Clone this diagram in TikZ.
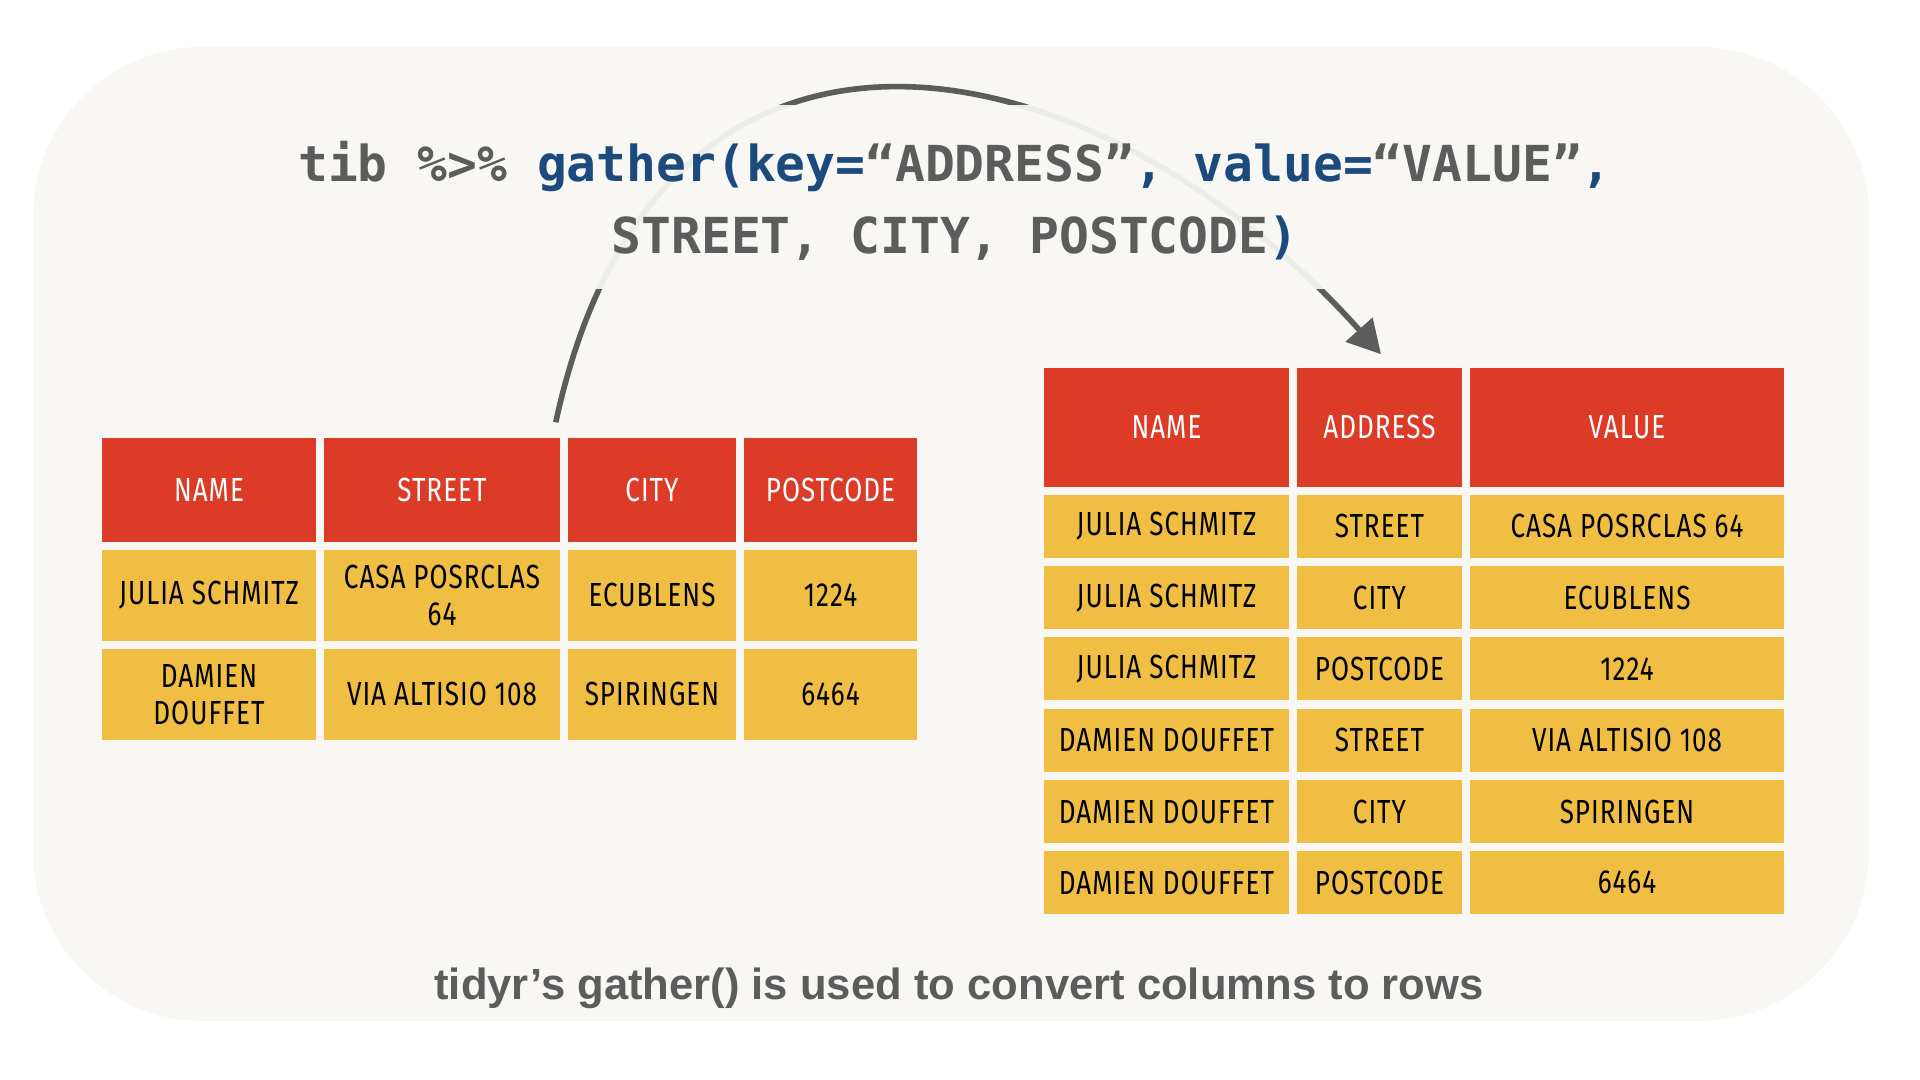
\documentclass[tikz,border=0pt]{standalone}
\usepackage{fontspec}
\setmainfont{Liberation Sans}
\setmonofont{DejaVu Sans Mono}
\newfontfamily\cellfamily[FakeStretch=0.78,LetterSpace=3]{Fira Sans}
\usepackage{tikz}
\usetikzlibrary{positioning}
\usetikzlibrary{arrows.meta}

\definecolor{paper}{RGB}{248,247,243}
\definecolor{hdred}{RGB}{219,59,39}
\definecolor{cellyel}{RGB}{239,190,66}
\definecolor{inkgray}{RGB}{92,92,92}
\definecolor{codeblue}{RGB}{29,74,124}
\newcommand{\cellfont}{\cellfamily\fontsize{9.5}{10.5}\selectfont}

\begin{document}
\begin{tikzpicture}[
  x = 0.01cm, y = -0.01cm,
  hd/.style = {fill=hdred, text=white, font=\cellfont, inner sep=0pt, align=center},
  cell/.style = {fill=cellyel, text=black, font=\cellfont, inner sep=0pt, align=center},
  title/.style = {font=\ttfamily\bfseries\fontsize{14.1}{20.5}\selectfont, align=center,
    fill=paper, fill opacity=0.93, text opacity=1, inner sep=0pt,
    minimum width=13.6cm, minimum height=1.84cm, text depth=0pt},
  arc/.style = {draw=inkgray, line width=1.6pt, -{Triangle[length=9.4pt,width=10pt]}}
]
\fill[white] (0,0) rectangle (1920,1080);
\useasboundingbox (0,0) rectangle (1920,1080);
\fill[paper, rounded corners=1.7cm] (33,47) rectangle (1869,1021);

% wide table
\foreach \x/\w/\nm/\txt in {209/2.14/lname/NAME, 442/2.36/lstreet/STREET,
    652/1.68/lcity/CITY, 830.5/1.73/lpost/POSTCODE}
  \node[hd, minimum width=\w cm, minimum height=1.04cm] (\nm) at (\x,490) {\txt};
\foreach \y/\nm/\st/\ct/\pc [count=\i] in {595.5/JULIA SCHMITZ/CASA POSRCLAS\\64/ECUBLENS/1224,
    694.5/DAMIEN\\DOUFFET/VIA ALTISIO 108/SPIRINGEN/6464}
{
  \node[cell, minimum width=2.14cm, minimum height=0.91cm] (la\i) at (209,\y) {\nm};
  \node[cell, minimum width=2.36cm, minimum height=0.91cm] (lb\i) at (442,\y) {\st};
  \node[cell, minimum width=1.68cm, minimum height=0.91cm] (lc\i) at (652,\y) {\ct};
  \node[cell, minimum width=1.73cm, minimum height=0.91cm] (ld\i) at (830.5,\y) {\pc};
}

% long table
\foreach \x/\w/\nm/\txt in {1166.5/2.45/rname/NAME, 1379.5/1.65/raddr/ADDRESS,
    1627/3.14/rval/VALUE}
  \node[hd, minimum width=\w cm, minimum height=1.19cm] (\nm) at (\x,427.5) {\txt};
\foreach \nm/\ky/\val [count=\i] in {JULIA SCHMITZ/STREET/CASA POSRCLAS 64,
    JULIA SCHMITZ/CITY/ECUBLENS, JULIA SCHMITZ/POSTCODE/1224,
    DAMIEN DOUFFET/STREET/VIA ALTISIO 108, DAMIEN DOUFFET/CITY/SPIRINGEN,
    DAMIEN DOUFFET/POSTCODE/6464}
{
  \node[cell, minimum width=2.45cm, minimum height=0.63cm] (ra\i) at (1166.5,{455+71.3*\i}) {\nm};
  \node[cell, minimum width=1.65cm, minimum height=0.63cm] (rb\i) at (1379.5,{455+71.3*\i}) {\ky};
  \node[cell, minimum width=3.14cm, minimum height=0.63cm] (rc\i) at (1627,{455+71.3*\i}) {\val};
}

\draw[arc] ([shift={(-5,-15)}]lstreet.north east) .. controls (660,-60) and (1100,40) .. ([shift={(1.5,-13)}]raddr.north);

\node[title] (code) at (955,197) {%
  \textcolor{inkgray}{tib \%>\%} \textcolor{codeblue}{gather(key=}\textcolor{inkgray}{“ADDRESS”}\textcolor{codeblue}{,} \textcolor{codeblue}{value=}\textcolor{inkgray}{“VALUE”}\textcolor{codeblue}{,}\\
  \textcolor{inkgray}{STREET, CITY, POSTCODE}\textcolor{codeblue}{)}};

\node[font=\bfseries\fontsize{12.4}{14}\selectfont, text=inkgray, anchor=base] (caption) at (959,1000)
  {tidyr’s gather() is used to convert columns to rows};
\end{tikzpicture}
\end{document}
